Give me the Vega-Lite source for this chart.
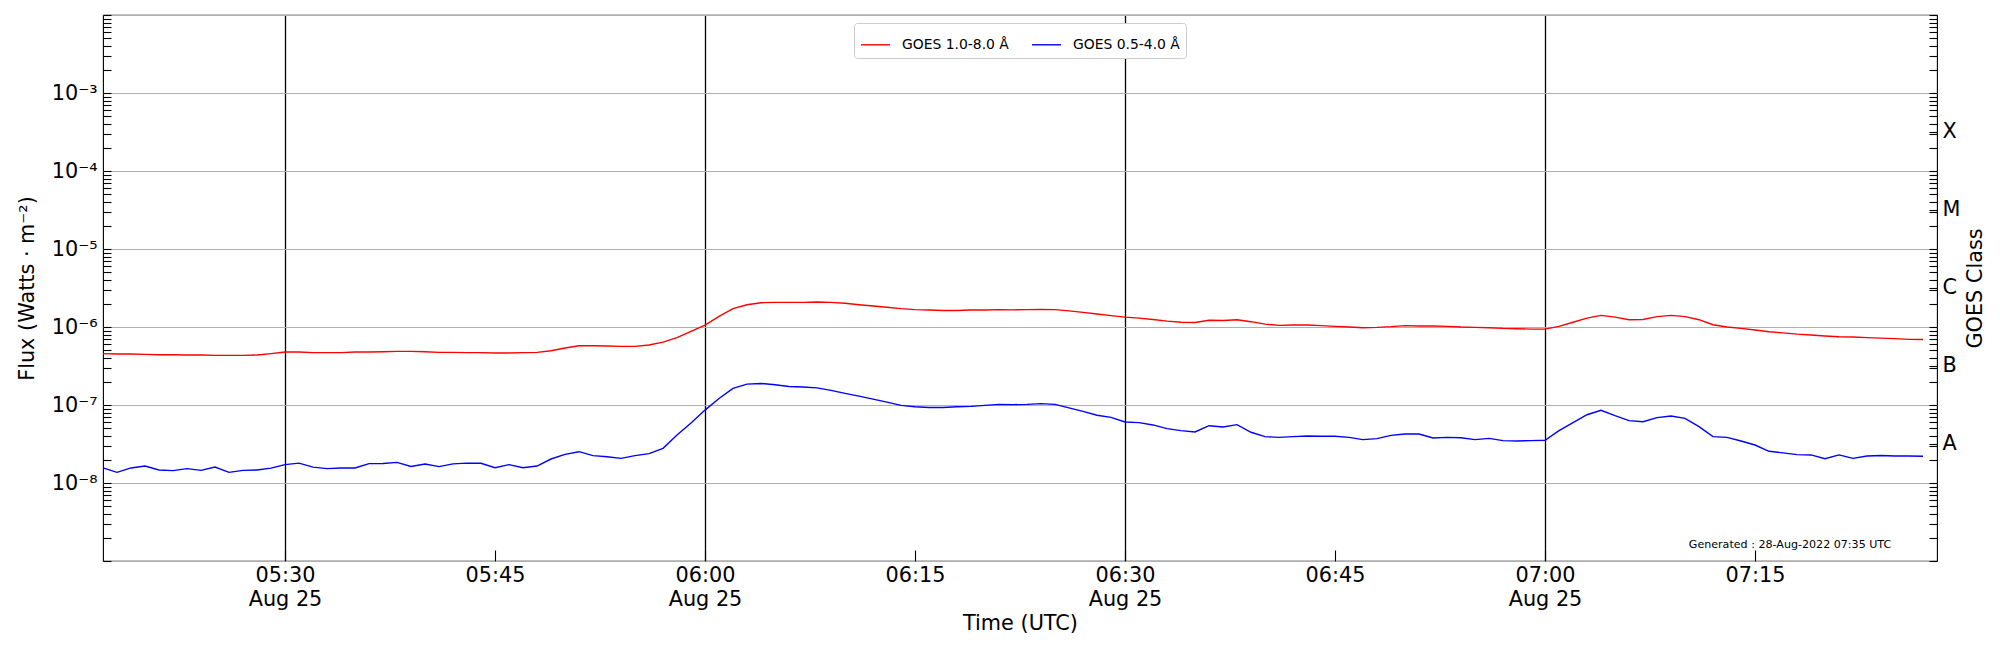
{
  "$schema": "https://vega.github.io/schema/vega-lite/v6.json",
  "width": 1834,
  "height": 546,
  "autosize": {"type": "none"},
  "padding": {"left": 103, "top": 15, "right": 63, "bottom": 89},
  "background": "white",
  "config": {
    "font": "DejaVu Sans",
    "view": {"stroke": "black", "strokeWidth": 1.1},
    "axis": {
      "labelFont": "DejaVu Sans", "titleFont": "DejaVu Sans",
      "labelColor": "black", "titleColor": "black", "tickColor": "black",
      "labelFontSize": 20.8, "titleFontSize": 20.8, "titleFontWeight": "normal",
      "domain": false
    }
  },
  "datasets": {
    "goes": [
      {"t":"2022-08-25T05:17Z","b":4.55e-7,"a":1.56e-8},
      {"t":"2022-08-25T05:18Z","b":4.50e-7,"a":1.37e-8},
      {"t":"2022-08-25T05:19Z","b":4.50e-7,"a":1.56e-8},
      {"t":"2022-08-25T05:20Z","b":4.46e-7,"a":1.65e-8},
      {"t":"2022-08-25T05:21Z","b":4.41e-7,"a":1.47e-8},
      {"t":"2022-08-25T05:22Z","b":4.41e-7,"a":1.44e-8},
      {"t":"2022-08-25T05:23Z","b":4.37e-7,"a":1.53e-8},
      {"t":"2022-08-25T05:24Z","b":4.37e-7,"a":1.45e-8},
      {"t":"2022-08-25T05:25Z","b":4.33e-7,"a":1.60e-8},
      {"t":"2022-08-25T05:26Z","b":4.33e-7,"a":1.37e-8},
      {"t":"2022-08-25T05:27Z","b":4.33e-7,"a":1.45e-8},
      {"t":"2022-08-25T05:28Z","b":4.37e-7,"a":1.47e-8},
      {"t":"2022-08-25T05:29Z","b":4.55e-7,"a":1.55e-8},
      {"t":"2022-08-25T05:30Z","b":4.78e-7,"a":1.72e-8},
      {"t":"2022-08-25T05:31Z","b":4.78e-7,"a":1.80e-8},
      {"t":"2022-08-25T05:32Z","b":4.69e-7,"a":1.60e-8},
      {"t":"2022-08-25T05:33Z","b":4.69e-7,"a":1.53e-8},
      {"t":"2022-08-25T05:34Z","b":4.69e-7,"a":1.56e-8},
      {"t":"2022-08-25T05:35Z","b":4.78e-7,"a":1.56e-8},
      {"t":"2022-08-25T05:36Z","b":4.78e-7,"a":1.77e-8},
      {"t":"2022-08-25T05:37Z","b":4.82e-7,"a":1.78e-8},
      {"t":"2022-08-25T05:38Z","b":4.87e-7,"a":1.84e-8},
      {"t":"2022-08-25T05:39Z","b":4.87e-7,"a":1.63e-8},
      {"t":"2022-08-25T05:40Z","b":4.82e-7,"a":1.75e-8},
      {"t":"2022-08-25T05:41Z","b":4.73e-7,"a":1.62e-8},
      {"t":"2022-08-25T05:42Z","b":4.73e-7,"a":1.76e-8},
      {"t":"2022-08-25T05:43Z","b":4.69e-7,"a":1.80e-8},
      {"t":"2022-08-25T05:44Z","b":4.69e-7,"a":1.79e-8},
      {"t":"2022-08-25T05:45Z","b":4.64e-7,"a":1.57e-8},
      {"t":"2022-08-25T05:46Z","b":4.64e-7,"a":1.72e-8},
      {"t":"2022-08-25T05:47Z","b":4.69e-7,"a":1.57e-8},
      {"t":"2022-08-25T05:48Z","b":4.73e-7,"a":1.65e-8},
      {"t":"2022-08-25T05:49Z","b":4.97e-7,"a":2.03e-8},
      {"t":"2022-08-25T05:50Z","b":5.37e-7,"a":2.33e-8},
      {"t":"2022-08-25T05:51Z","b":5.75e-7,"a":2.52e-8},
      {"t":"2022-08-25T05:52Z","b":5.75e-7,"a":2.24e-8},
      {"t":"2022-08-25T05:53Z","b":5.70e-7,"a":2.17e-8},
      {"t":"2022-08-25T05:54Z","b":5.65e-7,"a":2.07e-8},
      {"t":"2022-08-25T05:55Z","b":5.65e-7,"a":2.24e-8},
      {"t":"2022-08-25T05:56Z","b":5.87e-7,"a":2.38e-8},
      {"t":"2022-08-25T05:57Z","b":6.41e-7,"a":2.78e-8},
      {"t":"2022-08-25T05:58Z","b":7.29e-7,"a":4.12e-8},
      {"t":"2022-08-25T05:59Z","b":8.79e-7,"a":5.87e-8},
      {"t":"2022-08-25T06:00Z","b":1.06e-6,"a":8.6e-8},
      {"t":"2022-08-25T06:01Z","b":1.37e-6,"a":1.21e-7},
      {"t":"2022-08-25T06:02Z","b":1.72e-6,"a":1.63e-7},
      {"t":"2022-08-25T06:03Z","b":1.93e-6,"a":1.85e-7},
      {"t":"2022-08-25T06:04Z","b":2.05e-6,"a":1.89e-7},
      {"t":"2022-08-25T06:05Z","b":2.07e-6,"a":1.82e-7},
      {"t":"2022-08-25T06:06Z","b":2.07e-6,"a":1.73e-7},
      {"t":"2022-08-25T06:07Z","b":2.07e-6,"a":1.70e-7},
      {"t":"2022-08-25T06:08Z","b":2.09e-6,"a":1.66e-7},
      {"t":"2022-08-25T06:09Z","b":2.07e-6,"a":1.54e-7},
      {"t":"2022-08-25T06:10Z","b":2.02e-6,"a":1.41e-7},
      {"t":"2022-08-25T06:11Z","b":1.93e-6,"a":1.30e-7},
      {"t":"2022-08-25T06:12Z","b":1.86e-6,"a":1.19e-7},
      {"t":"2022-08-25T06:13Z","b":1.79e-6,"a":1.09e-7},
      {"t":"2022-08-25T06:14Z","b":1.72e-6,"a":9.9e-8},
      {"t":"2022-08-25T06:15Z","b":1.67e-6,"a":9.5e-8},
      {"t":"2022-08-25T06:16Z","b":1.65e-6,"a":9.3e-8},
      {"t":"2022-08-25T06:17Z","b":1.63e-6,"a":9.3e-8},
      {"t":"2022-08-25T06:18Z","b":1.63e-6,"a":9.5e-8},
      {"t":"2022-08-25T06:19Z","b":1.65e-6,"a":9.6e-8},
      {"t":"2022-08-25T06:20Z","b":1.65e-6,"a":9.9e-8},
      {"t":"2022-08-25T06:21Z","b":1.67e-6,"a":1.02e-7},
      {"t":"2022-08-25T06:22Z","b":1.66e-6,"a":1.01e-7},
      {"t":"2022-08-25T06:23Z","b":1.67e-6,"a":1.02e-7},
      {"t":"2022-08-25T06:24Z","b":1.68e-6,"a":1.04e-7},
      {"t":"2022-08-25T06:25Z","b":1.67e-6,"a":1.02e-7},
      {"t":"2022-08-25T06:26Z","b":1.61e-6,"a":9.2e-8},
      {"t":"2022-08-25T06:27Z","b":1.54e-6,"a":8.3e-8},
      {"t":"2022-08-25T06:28Z","b":1.47e-6,"a":7.4e-8},
      {"t":"2022-08-25T06:29Z","b":1.40e-6,"a":6.95e-8},
      {"t":"2022-08-25T06:30Z","b":1.34e-6,"a":6.05e-8},
      {"t":"2022-08-25T06:31Z","b":1.30e-6,"a":5.94e-8},
      {"t":"2022-08-25T06:32Z","b":1.25e-6,"a":5.55e-8},
      {"t":"2022-08-25T06:33Z","b":1.19e-6,"a":4.98e-8},
      {"t":"2022-08-25T06:34Z","b":1.15e-6,"a":4.69e-8},
      {"t":"2022-08-25T06:35Z","b":1.14e-6,"a":4.51e-8},
      {"t":"2022-08-25T06:36Z","b":1.22e-6,"a":5.43e-8},
      {"t":"2022-08-25T06:37Z","b":1.21e-6,"a":5.22e-8},
      {"t":"2022-08-25T06:38Z","b":1.24e-6,"a":5.6e-8},
      {"t":"2022-08-25T06:39Z","b":1.17e-6,"a":4.47e-8},
      {"t":"2022-08-25T06:40Z","b":1.09e-6,"a":3.93e-8},
      {"t":"2022-08-25T06:41Z","b":1.05e-6,"a":3.85e-8},
      {"t":"2022-08-25T06:42Z","b":1.06e-6,"a":3.93e-8},
      {"t":"2022-08-25T06:43Z","b":1.06e-6,"a":4.01e-8},
      {"t":"2022-08-25T06:44Z","b":1.04e-6,"a":3.97e-8},
      {"t":"2022-08-25T06:45Z","b":1.02e-6,"a":3.97e-8},
      {"t":"2022-08-25T06:46Z","b":1.00e-6,"a":3.85e-8},
      {"t":"2022-08-25T06:47Z","b":9.8e-7,"a":3.6e-8},
      {"t":"2022-08-25T06:48Z","b":9.9e-7,"a":3.7e-8},
      {"t":"2022-08-25T06:49Z","b":1.01e-6,"a":4.08e-8},
      {"t":"2022-08-25T06:50Z","b":1.04e-6,"a":4.25e-8},
      {"t":"2022-08-25T06:51Z","b":1.03e-6,"a":4.25e-8},
      {"t":"2022-08-25T06:52Z","b":1.03e-6,"a":3.77e-8},
      {"t":"2022-08-25T06:53Z","b":1.02e-6,"a":3.85e-8},
      {"t":"2022-08-25T06:54Z","b":1.00e-6,"a":3.81e-8},
      {"t":"2022-08-25T06:55Z","b":9.9e-7,"a":3.6e-8},
      {"t":"2022-08-25T06:56Z","b":9.8e-7,"a":3.73e-8},
      {"t":"2022-08-25T06:57Z","b":9.6e-7,"a":3.49e-8},
      {"t":"2022-08-25T06:58Z","b":9.5e-7,"a":3.46e-8},
      {"t":"2022-08-25T06:59Z","b":9.4e-7,"a":3.49e-8},
      {"t":"2022-08-25T07:00Z","b":9.4e-7,"a":3.53e-8},
      {"t":"2022-08-25T07:01Z","b":1.02e-6,"a":4.69e-8},
      {"t":"2022-08-25T07:02Z","b":1.15e-6,"a":5.94e-8},
      {"t":"2022-08-25T07:03Z","b":1.30e-6,"a":7.5e-8},
      {"t":"2022-08-25T07:04Z","b":1.41e-6,"a":8.55e-8},
      {"t":"2022-08-25T07:05Z","b":1.34e-6,"a":7.3e-8},
      {"t":"2022-08-25T07:06Z","b":1.24e-6,"a":6.3e-8},
      {"t":"2022-08-25T07:07Z","b":1.25e-6,"a":6.1e-8},
      {"t":"2022-08-25T07:08Z","b":1.36e-6,"a":6.88e-8},
      {"t":"2022-08-25T07:09Z","b":1.41e-6,"a":7.22e-8},
      {"t":"2022-08-25T07:10Z","b":1.36e-6,"a":6.74e-8},
      {"t":"2022-08-25T07:11Z","b":1.24e-6,"a":5.27e-8},
      {"t":"2022-08-25T07:12Z","b":1.07e-6,"a":3.93e-8},
      {"t":"2022-08-25T07:13Z","b":1.00e-6,"a":3.85e-8},
      {"t":"2022-08-25T07:14Z","b":9.6e-7,"a":3.45e-8},
      {"t":"2022-08-25T07:15Z","b":9.15e-7,"a":3.07e-8},
      {"t":"2022-08-25T07:16Z","b":8.7e-7,"a":2.55e-8},
      {"t":"2022-08-25T07:17Z","b":8.4e-7,"a":2.43e-8},
      {"t":"2022-08-25T07:18Z","b":8.1e-7,"a":2.31e-8},
      {"t":"2022-08-25T07:19Z","b":7.9e-7,"a":2.29e-8},
      {"t":"2022-08-25T07:20Z","b":7.67e-7,"a":2.05e-8},
      {"t":"2022-08-25T07:21Z","b":7.5e-7,"a":2.29e-8},
      {"t":"2022-08-25T07:22Z","b":7.45e-7,"a":2.07e-8},
      {"t":"2022-08-25T07:23Z","b":7.3e-7,"a":2.22e-8},
      {"t":"2022-08-25T07:24Z","b":7.2e-7,"a":2.25e-8},
      {"t":"2022-08-25T07:25Z","b":7.1e-7,"a":2.22e-8},
      {"t":"2022-08-25T07:26Z","b":6.95e-7,"a":2.22e-8},
      {"t":"2022-08-25T07:27Z","b":6.9e-7,"a":2.2e-8}
    ]
  },
  "encoding": {
    "x": {
      "field": "t", "type": "temporal",
      "scale": {"type": "utc", "domain": [
        {"year": 2022, "month": 8, "date": 25, "hours": 5, "minutes": 17, "utc": true},
        {"year": 2022, "month": 8, "date": 25, "hours": 7, "minutes": 28, "utc": true}
      ]},
      "axis": {
        "title": "Time (UTC)",
        "values": [
          {"year": 2022, "month": 8, "date": 25, "hours": 5, "minutes": 30, "utc": true},
          {"year": 2022, "month": 8, "date": 25, "hours": 5, "minutes": 45, "utc": true},
          {"year": 2022, "month": 8, "date": 25, "hours": 6, "minutes": 0, "utc": true},
          {"year": 2022, "month": 8, "date": 25, "hours": 6, "minutes": 15, "utc": true},
          {"year": 2022, "month": 8, "date": 25, "hours": 6, "minutes": 30, "utc": true},
          {"year": 2022, "month": 8, "date": 25, "hours": 6, "minutes": 45, "utc": true},
          {"year": 2022, "month": 8, "date": 25, "hours": 7, "minutes": 0, "utc": true},
          {"year": 2022, "month": 8, "date": 25, "hours": 7, "minutes": 15, "utc": true}
        ],
        "labelExpr": "utcminutes(datum.value) % 30 == 0 ? [utcFormat(datum.value, '%H:%M'), 'Aug 25'] : utcFormat(datum.value, '%H:%M')",
        "labelLineHeight": 24,
        "labelPadding": 15,
        "labelOverlap": false,
        "tickSize": -11,
        "tickWidth": 1.1,
        "titlePadding": 5,
        "grid": true,
        "gridColor": "black",
        "gridWidth": 1.3,
        "gridOpacity": {"condition": {"test": "utcminutes(datum.value) % 30 == 0", "value": 1}, "value": 0}
      }
    }
  },
  "layer": [
    {
      "data": {"name": "goes"},
      "transform": [{"fold": ["b", "a"], "as": ["k", "v"]}],
      "mark": {"type": "line", "strokeWidth": 1.4, "interpolate": "linear"},
      "encoding": {
        "y": {
          "field": "v", "type": "quantitative",
          "scale": {"type": "log", "domain": [1e-9, 1e-2]},
          "axis": {
            "title": "Flux (Watts · m⁻²)",
            "values": [1e-9,2e-9,3e-9,4e-9,5e-9,6e-9,7e-9,8e-9,9e-9,
                       1e-8,2e-8,3e-8,4e-8,5e-8,6e-8,7e-8,8e-8,9e-8,
                       1e-7,2e-7,3e-7,4e-7,5e-7,6e-7,7e-7,8e-7,9e-7,
                       1e-6,2e-6,3e-6,4e-6,5e-6,6e-6,7e-6,8e-6,9e-6,
                       1e-5,2e-5,3e-5,4e-5,5e-5,6e-5,7e-5,8e-5,9e-5,
                       1e-4,2e-4,3e-4,4e-4,5e-4,6e-4,7e-4,8e-4,9e-4,
                       1e-3,2e-3,3e-3,4e-3,5e-3,6e-3,7e-3,8e-3,9e-3,1e-2],
            "labelExpr": "abs(log(datum.value)/LN10 - round(log(datum.value)/LN10)) > 0.001 ? '' : round(log(datum.value)/LN10) == -3 ? '10⁻³' : round(log(datum.value)/LN10) == -4 ? '10⁻⁴' : round(log(datum.value)/LN10) == -5 ? '10⁻⁵' : round(log(datum.value)/LN10) == -6 ? '10⁻⁶' : round(log(datum.value)/LN10) == -7 ? '10⁻⁷' : round(log(datum.value)/LN10) == -8 ? '10⁻⁸' : ''",
            "labelPadding": 14,
            "labelOverlap": false,
            "tickSize": -8,
            "tickWidth": 1.1,
            "titlePadding": 14,
            "grid": true,
            "gridColor": "#b0b0b0",
            "gridWidth": 1.1,
            "gridOpacity": {"condition": {"test": "abs(log(datum.value)/LN10 - round(log(datum.value)/LN10)) < 0.001", "value": 1}, "value": 0}
          }
        },
        "color": {
          "field": "k", "type": "nominal",
          "scale": {"domain": ["b", "a"], "range": ["#ff0000", "#0000ff"]},
          "legend": {
            "orient": "none", "legendX": 751, "legendY": 8,
            "direction": "horizontal", "columns": 2, "title": null,
            "symbolType": "stroke", "symbolSize": 841, "symbolStrokeWidth": 1.4,
            "labelFont": "DejaVu Sans", "labelFontSize": 13.9, "labelColor": "black",
            "labelOffset": 11, "columnPadding": 20, "padding": 6,
            "strokeColor": "#cccccc", "cornerRadius": 3, "fillColor": "white",
            "labelLimit": 300,
            "labelExpr": "datum.label == 'b' ? 'GOES 1.0-8.0 Å' : 'GOES 0.5-4.0 Å'"
          }
        }
      }
    },
    {
      "data": {"values": [{"t": "2022-08-25T07:17:30Z", "v": 1.62e-9, "txt": "Generated : 28-Aug-2022 07:35 UTC"}]},
      "mark": {"type": "text", "fontSize": 11.1, "font": "DejaVu Sans", "align": "center", "baseline": "middle", "color": "black"},
      "encoding": {
        "y": {
          "field": "v", "type": "quantitative",
          "scale": {"type": "log"},
          "axis": {
            "orient": "right",
            "title": "GOES Class",
            "titleAngle": 270,
            "titleBaseline": "top",
            "values": [1e-9,2e-9,3e-9,4e-9,5e-9,6e-9,7e-9,8e-9,9e-9,
                       1e-8,2e-8,3e-8,3.16228e-8,4e-8,5e-8,6e-8,7e-8,8e-8,9e-8,
                       1e-7,2e-7,3e-7,3.16228e-7,4e-7,5e-7,6e-7,7e-7,8e-7,9e-7,
                       1e-6,2e-6,3e-6,3.16228e-6,4e-6,5e-6,6e-6,7e-6,8e-6,9e-6,
                       1e-5,2e-5,3e-5,3.16228e-5,4e-5,5e-5,6e-5,7e-5,8e-5,9e-5,
                       1e-4,2e-4,3e-4,3.16228e-4,4e-4,5e-4,6e-4,7e-4,8e-4,9e-4,
                       1e-3,2e-3,3e-3,4e-3,5e-3,6e-3,7e-3,8e-3,9e-3,1e-2],
            "labelExpr": "abs(datum.value/3.16228e-4 - 1) < 0.001 ? 'X' : abs(datum.value/3.16228e-5 - 1) < 0.001 ? 'M' : abs(datum.value/3.16228e-6 - 1) < 0.001 ? 'C' : abs(datum.value/3.16228e-7 - 1) < 0.001 ? 'B' : abs(datum.value/3.16228e-8 - 1) < 0.001 ? 'A' : ''",
            "labelOverlap": false,
            "labelPadding": 13,
            "tickSize": -8,
            "tickWidth": 1.1,
            "titlePadding": 6,
            "grid": false
          }
        },
        "text": {"field": "txt"}
      }
    }
  ],
  "resolve": {"axis": {"y": "independent"}}
}
